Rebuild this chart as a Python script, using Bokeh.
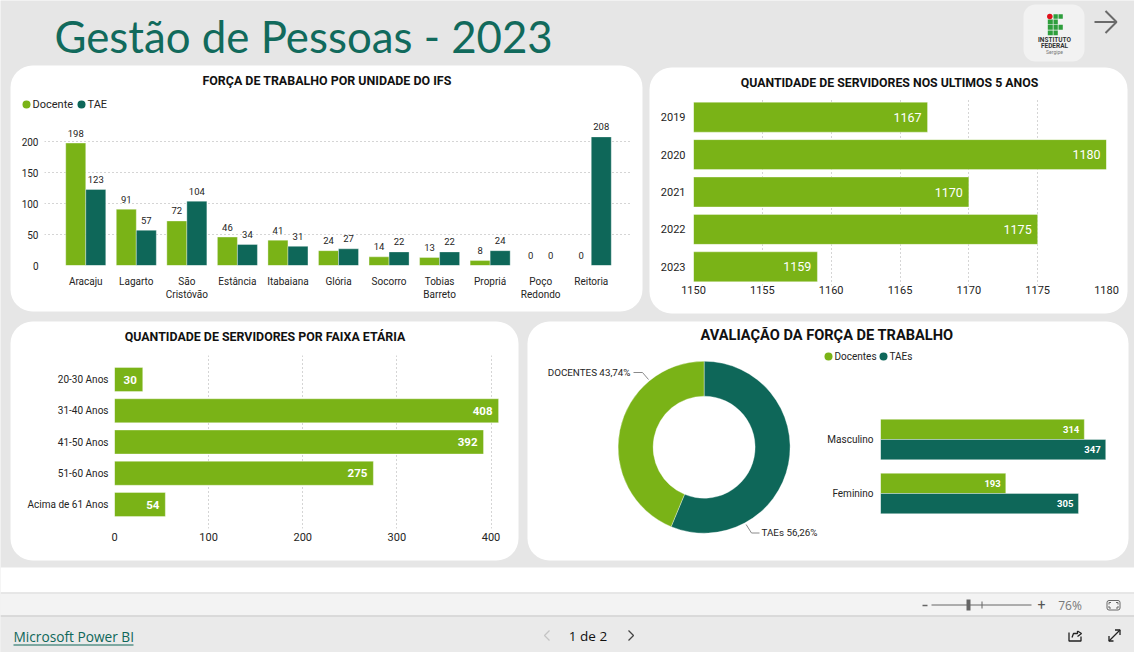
from bokeh.plotting import figure
from bokeh.models import Range1d, FactorRange, ColumnDataSource
from bokeh.core.properties import value
from bokeh.transform import dodge
from bokeh.embed import file_html
from bokeh.resources import INLINE
import math

GREEN = "#7AB317"
TEAL = "#0E6759"
INK = "#252423"
GRID = "#ABABAB"
FONT = "Roboto"

# ---- data ----
units = ["Aracaju", "Lagarto", "São\nCristóvão", "Estância", "Itabaiana", "Glória",
         "Socorro", "Tobias\nBarreto", "Propriá", "Poço\nRedondo", "Reitoria"]
unit_docente = [198, 91, 72, 46, 41, 24, 14, 13, 8, 0, 0]
unit_tae = [123, 57, 104, 34, 31, 27, 22, 22, 24, 0, 208]

years = ["2019", "2020", "2021", "2022", "2023"]
year_totals = [1167, 1180, 1170, 1175, 1159]

ages = ["20-30 Anos", "31-40 Anos", "41-50 Anos", "51-60 Anos", "Acima de 61 Anos"]
age_totals = [30, 408, 392, 275, 54]

donut_names = ["TAEs", "DOCENTES"]
donut_share = [56.26, 43.74]

genders = ["Masculino", "Feminino"]
gender_docentes = [314, 193]
gender_taes = [347, 305]


def place(p, left, top):
    p.styles = {"position": "absolute", "left": f"{left}px", "top": f"{top}px"}
    return p


def chart(box, frame, x_range, y_range, axes=True):
    """box and frame are (left, top, right, bottom) in page pixels."""
    L, T, R, B = box
    l, t, r, b = frame
    kw = {} if axes else dict(x_axis_location=None, y_axis_location=None)
    p = figure(width=R - L, height=B - T, x_range=x_range, y_range=y_range,
               output_backend="svg", toolbar_location=None,
               min_border_left=l - L, min_border_right=R - r,
               min_border_top=t - T, min_border_bottom=B - b, **kw)
    p.background_fill_color = None
    p.border_fill_color = None
    p.outline_line_color = None
    p.grid.grid_line_color = None
    for ax in p.axis:
        ax.axis_line_color = None
        ax.major_tick_line_color = None
        ax.minor_tick_line_color = None
        ax.major_tick_out = 0
        ax.major_tick_in = 0
        ax.minor_tick_out = 0
        ax.minor_tick_in = 0
        ax.major_label_text_font = FONT
        ax.major_label_text_color = INK
        ax.major_label_text_font_size = "10px"
    return place(p, L, T)


def dotted(g):
    g.grid_line_color = GRID
    g.grid_line_dash = "1 3"
    g.grid_line_width = 1


# ---- page background ----
bg = figure(width=1134, height=652, x_range=Range1d(0, 1134), y_range=Range1d(652, 0),
            output_backend="svg", toolbar_location=None, min_border=0,
            x_axis_location=None, y_axis_location=None)
bg.grid.visible = False
bg.outline_line_color = None
bg.background_fill_color = "#E6E6E6"
bg.border_fill_color = "#E6E6E6"
place(bg, 0, 0)


def T(x, y, s, size=10, color=INK, align="left", style="normal", font=FONT, base="middle"):
    bg.text([x], [y], text=[s], text_font=value(font), text_font_size=f"{size}px",
            text_color=color, text_align=align, text_baseline=base, text_font_style=style)


def Q(l, t, r, b, color, radius=0):
    bg.quad(left=[l], right=[r], top=[t], bottom=[b], fill_color=color, line_color=None,
            border_radius=radius)


def L(xs, ys, color="#666666", width=1.0):
    bg.line(xs, ys, line_color=color, line_width=width)


# footer bands
Q(0, 567, 1134, 592, "#FFFFFF")
Q(0, 592, 1134, 615, "#F3F3F3")
Q(0, 615, 1134, 652, "#EAEAEA")
L([0, 1134], [592.5, 592.5], "#DADADA")
L([0, 1134], [615.5, 615.5], "#C8C8C8")

# cards
Q(10, 65, 642, 311, "#FFFFFF", 22)
Q(649, 67, 1127, 313, "#FFFFFF", 22)
Q(10, 321, 518, 560, "#FFFFFF", 22)
Q(527, 321, 1128, 560, "#FFFFFF", 22)

# heading
T(54, 35.5, "Gestão de Pessoas - 2023", size=43.8, color="#116A5C", font="Lato")

# logo
Q(1023, 4, 1084, 61, "#F2F2F2", 12)
LOGO = "#2E9E3C"
for (l, t, r, b) in [(1053, 13.7, 1057.3, 18.3), (1058, 13.7, 1062.3, 18.3),
                     (1047.3, 19, 1052.3, 23.7), (1053, 19, 1057.3, 23.7),
                     (1047.3, 24.3, 1052.3, 29.3), (1053, 24.3, 1057.3, 29.3), (1058, 24.3, 1062.3, 29.3),
                     (1047.3, 30, 1052.3, 34.7), (1053, 30, 1057.3, 34.7)]:
    Q(l, t, r, b, LOGO)
bg.scatter([1049.3], [16], size=5.5, fill_color="#E0101A", line_color=None)
T(1054, 39.5, "INSTITUTO", size=6.5, align="center", style="bold", color="#333333")
T(1054, 45.5, "FEDERAL", size=6.5, align="center", style="bold", color="#333333")
T(1054, 51, "Sergipe", size=5, align="center", color="#777777")

# arrow
L([1094, 1116], [21.5, 21.5], "#6A6A6A", 2)
L([1105, 1116, 1105], [10.5, 21.5, 32.5], "#6A6A6A", 2)

# card titles
T(326.5, 80, "FORÇA DE TRABALHO POR UNIDADE DO IFS", size=12.45, align="center", style="bold", color="#111111")
T(889, 82, "QUANTIDADE DE SERVIDORES NOS ULTIMOS 5 ANOS", size=12.3, align="center", style="bold", color="#111111")
T(264.5, 336, "QUANTIDADE DE SERVIDORES POR FAIXA ETÁRIA", size=12.4, align="center", style="bold", color="#111111")
T(826.5, 334, "AVALIAÇÃO DA FORÇA DE TRABALHO", size=14.6, align="center", style="bold", color="#111111")

# legends
bg.scatter([26], [104], size=8, fill_color=GREEN, line_color=None)
T(32, 103.5, "Docente", size=11)
bg.scatter([81], [104], size=8, fill_color=TEAL, line_color=None)
T(87, 103.5, "TAE", size=11)
bg.scatter([828], [356], size=8, fill_color=GREEN, line_color=None)
T(834, 355.5, "Docentes", size=10)
bg.scatter([883], [356], size=8, fill_color=TEAL, line_color=None)
T(889, 355.5, "TAEs", size=10)

# footer content
T(13, 636, "Microsoft Power BI", size=13.7, color="#0E6759", font="Open Sans")
L([13, 133], [644.5, 644.5], "#0E6759")
T(587.5, 635, "1 de 2", size=13.5, align="center", color="#111111", font="Open Sans")
L([549, 544, 549], [630, 635, 640], "#C4C4C4", 1.3)
L([628, 633, 628], [630, 635, 640], "#444444", 1.3)
L([922, 927], [605, 605], "#666666", 1.5)
L([931, 1031], [604.5, 604.5], "#666666", 1)
Q(966, 599, 970, 610, "#666666")
L([981.5, 981.5], [601, 608], "#666666")
T(1041, 604, "+", size=14, align="center", color="#555555")
T(1069.5, 605, "76%", size=12, align="center", color="#777777", font="Open Sans")
bg.quad(left=[1106.5], right=[1119.5], top=[600], bottom=[609.5], fill_color=None,
        line_color="#666666", border_radius=2)
L([1108.5, 1108.5, 1110.5], [604, 602, 602], "#666666")
L([1115.5, 1117.5, 1117.5], [602, 602, 604], "#666666")
L([1108.5, 1108.5, 1110.5], [605.5, 607.5, 607.5], "#666666")
L([1115.5, 1117.5, 1117.5], [607.5, 607.5, 605.5], "#666666")
L([1068.5, 1068.5, 1080.5, 1080.5], [632, 640.5, 640.5, 636], "#222222", 1.3)
L([1071.5, 1073, 1077, 1077], [637, 633, 633, 630.5], "#222222", 1.3)
L([1077, 1081, 1077], [630.5, 633, 636], "#222222", 1.3)
L([1108.5, 1119.5], [640.5, 629.5], "#222222", 1.3)
L([1108.5, 1108.5, 1113], [635.5, 640.5, 640.5], "#222222", 1.3)
L([1114.5, 1119.5, 1119.5], [629.5, 629.5, 634.5], "#222222", 1.3)

# ---- chart 1: units ----
p1 = chart((10, 110, 642, 311), (44, 120, 632, 265),
           FactorRange(factors=units, range_padding=0.632 / 11), Range1d(0, 234.5))
dotted(p1.ygrid[0])
p1.yaxis.ticker = [0, 50, 100, 150, 200]
p1.yaxis.major_label_standoff = 6
p1.xaxis.major_label_standoff = 10
s1 = ColumnDataSource(dict(unit=units, docente=unit_docente, tae=unit_tae,
                           docente_label=[str(v) for v in unit_docente],
                           tae_label=[str(v) for v in unit_tae]))
d_left = dodge("unit", -0.198, range=p1.x_range)
d_right = dodge("unit", 0.198, range=p1.x_range)
BAR_EDGE = dict(line_color="#FFFFFF", line_alpha=0.35, line_width=1)
p1.vbar(x=d_left, top="docente", width=0.396, bottom=0, source=s1, fill_color=GREEN, **BAR_EDGE)
p1.vbar(x=d_right, top="tae", width=0.396, bottom=0, source=s1, fill_color=TEAL, **BAR_EDGE)
p1.text(x=d_left, y="docente", text="docente_label", source=s1, text_align="center", text_baseline="bottom",
        y_offset=-6.5, text_font=value(FONT), text_font_size="9.5px", text_color=INK)
p1.text(x=d_right, y="tae", text="tae_label", source=s1, text_align="center", text_baseline="bottom",
        y_offset=-6.5, text_font=value(FONT), text_font_size="9.5px", text_color=INK)

# ---- chart 2: years ----
p2 = chart((649, 90, 1127, 313), (693, 98, 1106, 285),
           Range1d(1150, 1180), FactorRange(factors=years[::-1]))
dotted(p2.xgrid[0])
p2.xaxis.ticker = [1150, 1155, 1160, 1165, 1170, 1175, 1180]
p2.xaxis.major_label_standoff = 0
p2.yaxis.major_label_standoff = 8
p2.xaxis.major_label_text_font_size = "11px"
p2.yaxis.major_label_text_font_size = "11px"
s2 = ColumnDataSource(dict(year=years, total=year_totals, label=[str(v) for v in year_totals]))
p2.hbar(y="year", right="total", left=1150, height=0.8, source=s2, fill_color=GREEN, **BAR_EDGE)
p2.text(x="total", y="year", text="label", source=s2, text_align="right", text_baseline="middle",
        x_offset=-6, text_font=value(FONT), text_font_size="12.5px", text_color="#FFFFFF")

# ---- chart 3: age bands ----
p3 = chart((10, 350, 518, 560), (114, 355, 499, 528),
           Range1d(0, 409), FactorRange(factors=ages[::-1], range_padding=0.536 / 5))
dotted(p3.xgrid[0])
p3.xaxis.ticker = [0, 100, 200, 300, 400]
p3.xaxis.major_label_standoff = 4
p3.yaxis.major_label_standoff = 6
p3.xaxis.major_label_text_font_size = "11px"
s3 = ColumnDataSource(dict(age=ages, total=age_totals, label=[str(v) for v in age_totals]))
p3.hbar(y="age", right="total", left=0, height=0.768, source=s3, fill_color=GREEN, **BAR_EDGE)
p3.text(x="total", y="age", text="label", source=s3, text_align="right", text_baseline="middle",
        x_offset=-6, text_font=value(FONT), text_font_size="11.5px", text_font_style="bold",
        text_color="#FFFFFF")

# ---- chart 4a: donut ----
CX, CY = 703.6, 446.7
p4 = chart((600, 345, 810, 555), (600, 345, 810, 555),
           Range1d(600 - CX, 810 - CX), Range1d(CY - 555, CY - 345), axes=False)
stops = []
a = math.pi / 2
for share in donut_share:
    b = a - 2 * math.pi * share / 100
    stops.append((a, b))
    a = b
s4 = ColumnDataSource(dict(start=[t[0] for t in stops], end=[t[1] for t in stops],
                           color=[TEAL, GREEN]))
p4.annular_wedge(x=0, y=0, inner_radius=51, outer_radius=86, start_angle="start", end_angle="end",
                 direction="clock", fill_color="color", line_color="#FFFFFF", line_alpha=0.35, source=s4)
T(630, 371.5, f"{donut_names[1]} {str(donut_share[1]).replace('.', ',')}%", size=9.8, align="right")
L([633, 642, 648], [372, 372, 379], "#8A8A8A")
T(761, 531.5, f"{donut_names[0]} {str(donut_share[0]).replace('.', ',')}%", size=9.8)
L([745.6, 751, 759], [524, 532.5, 532.5], "#8A8A8A")

# ---- chart 4b: gender ----
p5 = chart((800, 405, 1125, 530), (880, 412, 1106, 520),
           Range1d(0, 348.2), FactorRange(factors=genders[::-1]))
p5.xaxis.visible = False
p5.yaxis.major_label_standoff = 7
p5.yaxis.major_label_text_font_size = "10px"
s5 = ColumnDataSource(dict(gender=genders, docentes=gender_docentes, taes=gender_taes,
                           docentes_label=[str(v) for v in gender_docentes],
                           taes_label=[str(v) for v in gender_taes]))
up = dodge("gender", 0.187, range=p5.y_range)
down = dodge("gender", -0.187, range=p5.y_range)
p5.hbar(y=up, right="docentes", left=0, height=0.374, source=s5, fill_color=GREEN, **BAR_EDGE)
p5.hbar(y=down, right="taes", left=0, height=0.374, source=s5, fill_color=TEAL, **BAR_EDGE)
p5.text(x="docentes", y=up, text="docentes_label", source=s5, text_align="right", text_baseline="middle",
        x_offset=-5, text_font=value(FONT), text_font_size="9.5px", text_font_style="bold", text_color="#FFFFFF")
p5.text(x="taes", y=down, text="taes_label", source=s5, text_align="right", text_baseline="middle",
        x_offset=-5, text_font=value(FONT), text_font_size="9.5px", text_font_style="bold", text_color="#FFFFFF")

open("out.html", "w").write(file_html([bg, p1, p2, p3, p4, p5], INLINE))
